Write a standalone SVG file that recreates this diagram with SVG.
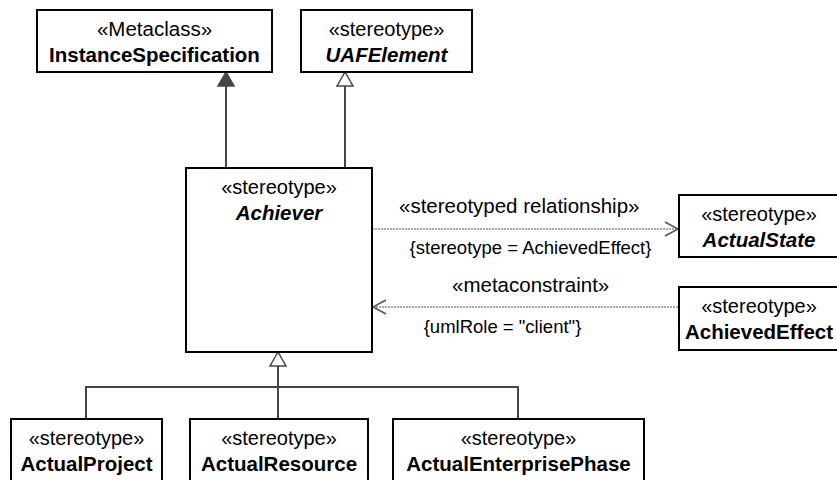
<svg xmlns="http://www.w3.org/2000/svg" width="837" height="480" viewBox="0 0 837 480">
<style>
.box{fill:#fff;stroke:#000;stroke-width:2}
text{font-family:"Liberation Sans",Arial,sans-serif;font-size:20.5px;fill:#000}
.c{text-anchor:middle}
.b{font-weight:bold}
.i{font-style:italic}
.s{font-size:20px}
.k{font-size:18.5px;text-anchor:middle}
.gen{fill:none;stroke:#454545;stroke-width:2}
.dep{fill:none;stroke:#8a8a8a;stroke-width:1.5;stroke-dasharray:2 1}
.open{fill:none;stroke:#555;stroke-width:1.5}
</style>
<rect width="837" height="480" fill="#fff"/>
<g id="connectors">
<line class="gen" x1="226" y1="168" x2="226" y2="86"/>
<polygon points="226,72 218,86 234,86" fill="#454545" stroke="#454545" stroke-width="1.5"/>
<line class="gen" x1="345" y1="168" x2="345" y2="86"/>
<polygon points="345,72 337,86 353,86" fill="#fff" stroke="#454545" stroke-width="1.5"/>
<polyline class="gen" points="86,419 86,387 518,387 518,419"/>
<line class="gen" x1="278" y1="419" x2="278" y2="366"/>
<polygon points="278,352 270,366 286,366" fill="#fff" stroke="#454545" stroke-width="1.5"/>
<line class="dep" x1="372" y1="229" x2="678" y2="229"/>
<polyline class="open" points="665,222 678,229 665,236"/>
<line class="dep" x1="373" y1="307" x2="679" y2="307"/>
<polyline class="open" points="386,300 373,307 386,314"/>
<text x="399" y="213">«stereotyped relationship»</text>
<text class="k" x="530.5" y="254">{stereotype = AchievedEffect}</text>
<text x="452" y="292">«metaconstraint»</text>
<text class="k" x="502.5" y="333">{umlRole = "client"}</text>
</g>
<g id="InstanceSpecification">
<rect class="box" x="37" y="10" width="235" height="62"/>
<text class="c" x="154.5" y="36">«Metaclass»</text>
<text class="c b" x="154.5" y="62">InstanceSpecification</text>
</g>
<g id="UAFElement">
<rect class="box" x="301" y="10" width="171" height="62"/>
<text class="c s" x="386.5" y="36">«stereotype»</text>
<text class="c b i" x="386.5" y="62">UAFElement</text>
</g>
<g id="Achiever">
<rect class="box" x="186" y="168" width="186" height="184"/>
<text class="c s" x="279" y="194">«stereotype»</text>
<text class="c b i" x="279" y="220">Achiever</text>
</g>
<g id="ActualState">
<rect class="box" x="679" y="195" width="162" height="62"/>
<text class="c s" x="759" y="221">«stereotype»</text>
<text class="c b i" x="759" y="247">ActualState</text>
</g>
<g id="AchievedEffect">
<rect class="box" x="679" y="287" width="162" height="63"/>
<text class="c s" x="759" y="313">«stereotype»</text>
<text class="c b" x="759" y="339">AchievedEffect</text>
</g>
<g id="ActualProject">
<rect class="box" x="11" y="419" width="151" height="62"/>
<text class="c s" x="86.5" y="445">«stereotype»</text>
<text class="c b" x="86.5" y="471">ActualProject</text>
</g>
<g id="ActualResource">
<rect class="box" x="190" y="419" width="178" height="62"/>
<text class="c s" x="279" y="445">«stereotype»</text>
<text class="c b" x="279" y="471">ActualResource</text>
</g>
<g id="ActualEnterprisePhase">
<rect class="box" x="393" y="419" width="251" height="62"/>
<text class="c s" x="518.5" y="445">«stereotype»</text>
<text class="c b" x="518.5" y="471">ActualEnterprisePhase</text>
</g>
</svg>
